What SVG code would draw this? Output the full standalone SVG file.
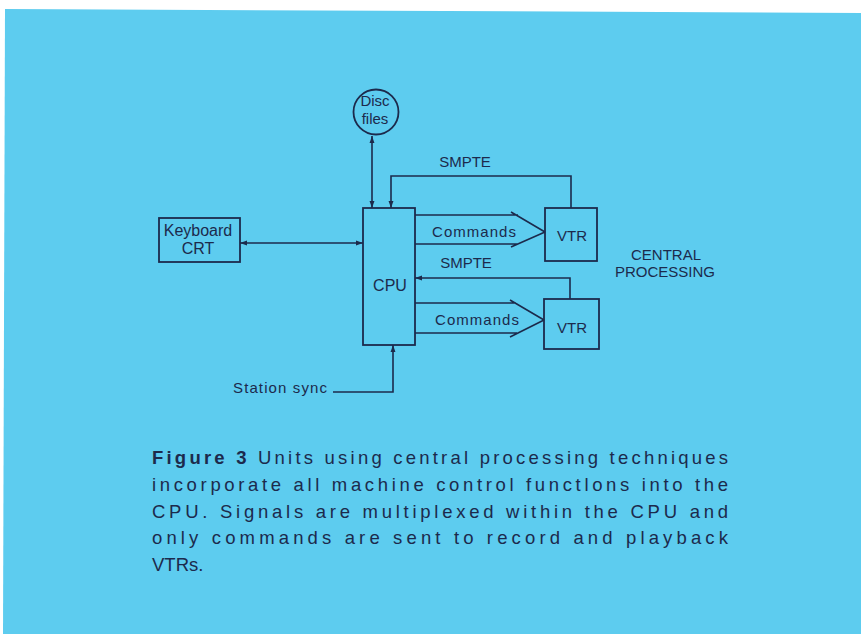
<svg xmlns="http://www.w3.org/2000/svg" width="861" height="634" viewBox="0 0 861 634">
<defs>
<style>
.bx{fill:none;stroke:#1c2a4c;stroke-width:1.8}
.ln{fill:none;stroke:#1c2a4c;stroke-width:1.6}
text{font-family:"Liberation Sans",Arial,sans-serif;fill:#1c2a4c}
.lb{font-size:15px;text-anchor:middle}
.lb16{font-size:16px;text-anchor:middle}
.cap{font-size:18.5px}
</style>
<marker id="ah" viewBox="0 0 10 10" refX="10" refY="5" markerWidth="7" markerHeight="7" orient="auto-start-reverse" markerUnits="userSpaceOnUse">
<path d="M0,1.5 L10,5 L0,8.5 Z" fill="#1c2a4c"/>
</marker>
</defs>
<rect width="861" height="634" fill="#ffffff"/>
<polygon points="5,9 861,13 861,634 3,634" fill="#5dccef"/>

<g id="disc">
<circle cx="376" cy="112" r="22.5" class="bx"/>
<text class="lb" x="375" y="106">Disc</text>
<text class="lb" x="375" y="124">files</text>
</g>
<g id="keyboard">
<rect x="159" y="218" width="81" height="44" class="bx"/>
<text class="lb16" x="198" y="236">Keyboard</text>
<text class="lb16" x="198" y="254">CRT</text>
</g>
<g id="cpu">
<rect x="363" y="208" width="52" height="137" class="bx"/>
<text class="lb16" x="390" y="291">CPU</text>
</g>
<g id="vtr1">
<rect x="545" y="208" width="52" height="53" class="bx"/>
<text class="lb" x="572" y="241">VTR</text>
</g>
<g id="vtr2">
<rect x="544" y="299" width="55" height="50" class="bx"/>
<text class="lb" x="572" y="333">VTR</text>
</g>
<g id="title">
<text class="lb" x="666" y="260">CENTRAL</text>
<text class="lb" x="665" y="277">PROCESSING</text>
</g>

<g id="connectors">
<path class="ln" d="M372,136 V208" marker-start="url(#ah)" marker-end="url(#ah)"/>
<path class="ln" d="M571,208 V176 H391 V208" marker-end="url(#ah)"/>
<text class="lb" x="465" y="167">SMPTE</text>
<path class="ln" d="M240,243 H363" marker-start="url(#ah)" marker-end="url(#ah)"/>
<path class="ln" d="M415,215 H518 M511,212 L545,232 M415,244 H518 M511,247 L545,232"/>
<text class="lb" x="474" y="237" textLength="84" lengthAdjust="spacing">Commands</text>
<path class="ln" d="M570,299 V278 H415" marker-end="url(#ah)"/>
<text class="lb" x="466" y="268">SMPTE</text>
<path class="ln" d="M415,303 H516 M510,300 L544,320 M415,333 H517 M510,337 L544,320"/>
<text class="lb" x="477" y="325" textLength="84" lengthAdjust="spacing">Commands</text>
<path class="ln" d="M333,392 H393 V345" marker-end="url(#ah)"/>
<text x="233" y="393" font-size="15" textLength="94" lengthAdjust="spacing">Station sync</text>
</g>

<g id="caption">
<text class="cap" x="152" y="464" textLength="576" lengthAdjust="spacing"><tspan font-weight="bold">Figure 3</tspan> Units using central processing techniques</text>
<text class="cap" x="152" y="491" textLength="576" lengthAdjust="spacing">incorporate all machine control functlons into the</text>
<text class="cap" x="152" y="518" textLength="576" lengthAdjust="spacing">CPU. Signals are multiplexed within the CPU and</text>
<text class="cap" x="152" y="544" textLength="576" lengthAdjust="spacing">only commands are sent to record and playback</text>
<text class="cap" x="152" y="571">VTRs.</text>
</g>
</svg>
